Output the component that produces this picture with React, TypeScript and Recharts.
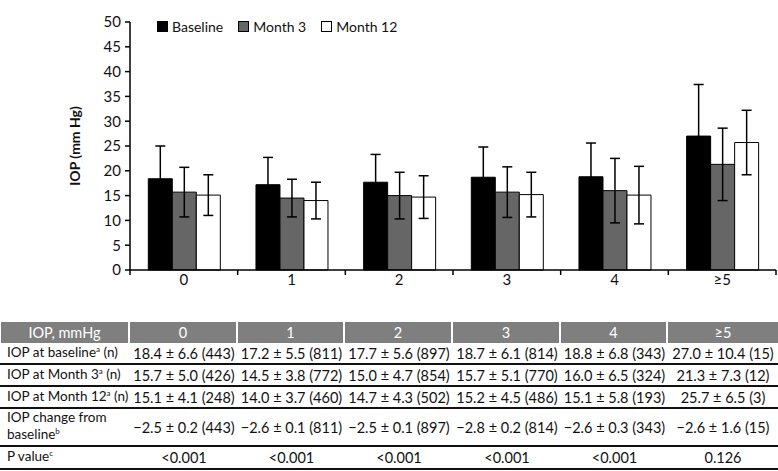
import React from 'react';
import { BarChart, Bar, XAxis, YAxis, ErrorBar, Legend } from 'recharts';

const categories = ['0', '1', '2', '3', '4', '≥5'];
const baselineMean = [18.4, 17.2, 17.7, 18.7, 18.8, 27.0];
const baselineSd = [6.6, 5.5, 5.6, 6.1, 6.8, 10.4];
const baselineN = [443, 811, 897, 814, 343, 15];
const month3Mean = [15.7, 14.5, 15.0, 15.7, 16.0, 21.3];
const month3Sd = [5.0, 3.8, 4.7, 5.1, 6.5, 7.3];
const month3N = [426, 772, 854, 770, 324, 12];
const month12Mean = [15.1, 14.0, 14.7, 15.2, 15.1, 25.7];
const month12Sd = [4.1, 3.7, 4.3, 4.5, 5.8, 6.5];
const month12N = [248, 460, 502, 486, 193, 3];
const changeMean = ['−2.5', '−2.6', '−2.5', '−2.8', '−2.6', '−2.6'];
const changeSe = [0.2, 0.1, 0.1, 0.2, 0.3, 1.6];
const changeN = [443, 811, 897, 814, 343, 15];
const pValues = ['<0.001', '<0.001', '<0.001', '<0.001', '<0.001', '0.126'];
const yTicks = [0, 5, 10, 15, 20, 25, 30, 35, 40, 45, 50];

const data = categories.map((c, i) => ({
  cat: c,
  baseline: baselineMean[i],
  baselineSd: baselineSd[i],
  month3: month3Mean[i],
  month3Sd: month3Sd[i],
  month12: month12Mean[i],
  month12Sd: month12Sd[i],
}));

const FONT = 'Lato, "Open Sans", sans-serif';
const CHART_W = 778;
const Y_W = 130;
const RIGHT = 2;
const BAND = (CHART_W - Y_W - RIGHT) / categories.length;

const XTick = (props: any) => {
  const { x, y, payload, index } = props;
  return (
    <g>
      <line x1={x - BAND / 2} x2={x - BAND / 2} y1={y - 8} y2={y - 3} stroke="#000" strokeWidth={1.5} />
      {index === categories.length - 1 && (
        <line x1={x + BAND / 2} x2={x + BAND / 2} y1={y - 8} y2={y - 3} stroke="#000" strokeWidth={1.5} />
      )}
      <text x={x} y={y + 7} textAnchor="middle" fontSize={15} fontFamily={FONT} fill="#111">
        {payload.value}
      </text>
    </g>
  );
};

const legendItems = [
  { label: 'Baseline', fill: '#000000' },
  { label: 'Month 3', fill: '#666666' },
  { label: 'Month 12', fill: '#ffffff' },
];

const LegendContent = () => (
  <div style={{ display: 'flex', alignItems: 'center', fontFamily: FONT, fontSize: 14, color: '#111' }}>
    {legendItems.map((it) => (
      <div key={it.label} style={{ display: 'flex', alignItems: 'center', marginRight: 15 }}>
        <span
          style={{
            display: 'inline-block',
            width: 9,
            height: 9,
            background: it.fill,
            border: '1px solid #000',
            marginRight: 4,
          }}
        />
        <span>{it.label}</span>
      </div>
    ))}
  </div>
);

const Sup = ({ c }: { c: string }) => (
  <span style={{ fontSize: 8, position: 'relative', top: -5 }}>{c}</span>
);

const colLefts = [0, 130, 238, 345, 453, 561, 668];
const colRights = [130, 238, 345, 453, 561, 668, 778];

const rowLabels: React.ReactNode[] = [
  <span>IOP at baseline<Sup c="a" /> (n)</span>,
  <span>IOP at Month 3<Sup c="a" /> (n)</span>,
  <span>IOP at Month 12<Sup c="a" /> (n)</span>,
  <span>IOP change from<br />baseline<Sup c="b" /></span>,
  <span>P value<Sup c="c" /></span>,
];

const rowCells: string[][] = [
  categories.map((_, i) => `${baselineMean[i].toFixed(1)} ± ${baselineSd[i].toFixed(1)} (${baselineN[i]})`),
  categories.map((_, i) => `${month3Mean[i].toFixed(1)} ± ${month3Sd[i].toFixed(1)} (${month3N[i]})`),
  categories.map((_, i) => `${month12Mean[i].toFixed(1)} ± ${month12Sd[i].toFixed(1)} (${month12N[i]})`),
  categories.map((_, i) => `${changeMean[i]} ± ${changeSe[i].toFixed(1)} (${changeN[i]})`),
  pValues,
];
const rowTops = [343, 364, 386, 408, 446];
const rowBottoms = [364, 386, 408, 446, 469];

export default function App() {
  return (
    <div style={{ position: 'absolute', left: 0, top: 0, width: 778, height: 471, background: '#fff' }}>
      <BarChart
        width={CHART_W}
        height={300}
        data={data}
        margin={{ top: 5, right: RIGHT, left: 0, bottom: 0 }}
        barCategoryGap="17%"
        barGap={0}
      >
        <XAxis
          dataKey="cat"
          height={30}
          axisLine={{ stroke: '#000', strokeWidth: 1.5 }}
          tickLine={false}
          tick={<XTick />}
          interval={0}
        />
        <YAxis
          width={Y_W}
          domain={[0, 50]}
          ticks={yTicks}
          interval={0}
          axisLine={{ stroke: '#000', strokeWidth: 1.5 }}
          tickLine={{ stroke: '#000', strokeWidth: 1.5 }}
          tickSize={5}
          tickMargin={4}
          tick={{ fontSize: 15, fontFamily: FONT, fill: '#111' }}
          label={{
            value: 'IOP (mm Hg)',
            angle: -90,
            position: 'center',
            dx: 10,
            style: { fontSize: 14, fontWeight: 700, fontFamily: FONT, fill: '#111' },
          }}
        />
        <Legend
          verticalAlign="top"
          align="left"
          content={<LegendContent />}
          wrapperStyle={{ top: 18, left: 157, width: 'auto' }}
        />
        <Bar dataKey="baseline" fill="#000000" stroke="#000" strokeWidth={1} isAnimationActive={false}>
          <ErrorBar dataKey="baselineSd" width={5} stroke="#000" strokeWidth={1.5} />
        </Bar>
        <Bar dataKey="month3" fill="#666666" stroke="#000" strokeWidth={1} isAnimationActive={false}>
          <ErrorBar dataKey="month3Sd" width={5} stroke="#000" strokeWidth={1.5} />
        </Bar>
        <Bar dataKey="month12" fill="#ffffff" stroke="#000" strokeWidth={1} isAnimationActive={false}>
          <ErrorBar dataKey="month12Sd" width={5} stroke="#000" strokeWidth={1.5} />
        </Bar>
      </BarChart>
      <div style={{ position: 'absolute', left: 0, top: 0, width: 778, height: 471, fontFamily: FONT, fontSize: 14.5, color: '#111' }}>
        {['IOP, mmHg', ...categories].map((h, i) => (
          <div
            key={'h' + i}
            style={{
              position: 'absolute',
              left: colLefts[i] + (i === 0 ? 1 : 0),
              top: 322,
              width: colRights[i] - colLefts[i] - (i < 6 ? 2 : 0) - (i === 0 ? 1 : 0),
              height: 21,
              background: '#7f7f7f',
              color: '#fff',
              display: 'flex',
              alignItems: 'center',
              justifyContent: 'center',
            }}
          >
            {h}
          </div>
        ))}
        {rowCells.map((cells, r) => (
          <React.Fragment key={'r' + r}>
            <div
              style={{
                position: 'absolute',
                left: 7,
                top: rowTops[r],
                width: 122,
                height: rowBottoms[r] - rowTops[r],
                display: 'flex',
                alignItems: 'center',
                lineHeight: '17px',
                whiteSpace: 'nowrap',
                fontSize: 13.5,
              }}
            >
              {rowLabels[r]}
            </div>
            {cells.map((t, i) => (
              <div
                key={i}
                style={{
                  position: 'absolute',
                  left: colLefts[i + 1],
                  top: rowTops[r],
                  width: colRights[i + 1] - colLefts[i + 1],
                  height: rowBottoms[r] - rowTops[r],
                  display: 'flex',
                  alignItems: 'center',
                  justifyContent: 'center',
                  whiteSpace: 'nowrap',
                }}
              >
                {t}
              </div>
            ))}
            <div
              style={{
                position: 'absolute',
                left: 0,
                top: rowBottoms[r] - 1,
                width: 778,
                height: 2,
                background: '#111',
              }}
            />
          </React.Fragment>
        ))}
      </div>
    </div>
  );
}
